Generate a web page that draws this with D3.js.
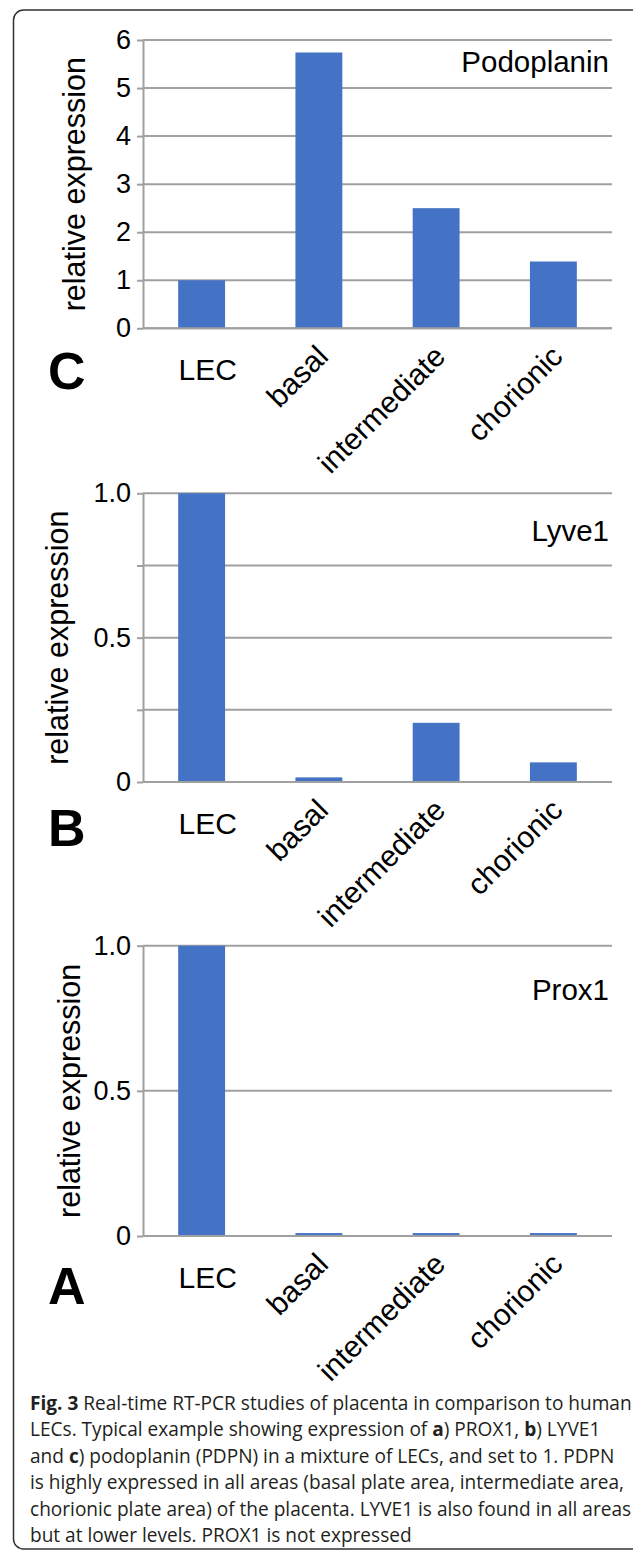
<!DOCTYPE html>
<html>
<head>
<meta charset="utf-8">
<script src="https://cdn.jsdelivr.net/npm/d3@7"></script>
<style>
  body { margin: 0; background: #fff; }
  svg { display: block; }
</style>
</head>
<body>
<svg></svg>
<script>
const categories = ['LEC', 'basal', 'intermediate', 'chorionic'];
const podoplanin = [1.0, 5.74, 2.5, 1.39];
const lyve1 = [1.0, 0.016, 0.205, 0.068];
const prox1 = [1.0, 0.01, 0.01, 0.01];

const podoplaninTicks = [0, 1, 2, 3, 4, 5, 6];
const lyve1Ticks = [0, 0.25, 0.5, 0.75, 1.0];
const prox1Ticks = [0, 0.5, 1.0];
const fractionLabels = [0, 0.5, 1.0];

const captionLines = [
  '*Fig. 3* Real-time RT-PCR studies of placenta in comparison to human',
  'LECs. Typical example showing expression of *a*) PROX1, *b*) LYVE1',
  'and *c*) podoplanin (PDPN) in a mixture of LECs, and set to 1. PDPN',
  'is highly expressed in all areas (basal plate area, intermediate area,',
  'chorionic plate area) of the placenta. LYVE1 is also found in all areas',
  'but at lower levels. PROX1 is not expressed'
];

const width = 633;
const height = 1554;
const font = '"Liberation Sans", Arial, sans-serif';
const blue = '#4472c4';
const grey = '#a0a0a0';
const left = 143, right = 612;

const svg = d3.select('svg')
    .attr('width', width)
    .attr('height', height);

svg.append('rect')
    .attr('x', 13.5)
    .attr('y', 10)
    .attr('width', 640)
    .attr('height', 1539)
    .attr('rx', 10)
    .attr('fill', 'none')
    .attr('stroke', '#333')
    .attr('stroke-width', 1.5);

const x = d3.scaleBand()
    .domain(categories)
    .range([left, right])
    .paddingInner(0.6)
    .paddingOuter(0.3);

const fractionFormat = d => fractionLabels.includes(d) ? (d === 0 ? '0' : d.toFixed(1)) : '';

const panels = [
  {letter: 'C', name: 'Podoplanin', values: podoplanin, grid: podoplaninTicks, max: 6,
   top: 40, bottom: 328.3, nameY: 72, titleX: 85, letterY: 389,
   fmt: d3.format('d')},
  {letter: 'B', name: 'Lyve1', values: lyve1, grid: lyve1Ticks, max: 1,
   top: 493.3, bottom: 782, nameY: 541, titleX: 68, letterY: 846,
   fmt: fractionFormat},
  {letter: 'A', name: 'Prox1', values: prox1, grid: prox1Ticks, max: 1,
   top: 945.7, bottom: 1236, nameY: 1000, titleX: 80, letterY: 1304,
   fmt: fractionFormat}
];

panels.forEach(drawPanel);

function drawPanel(p) {
  const y = d3.scaleLinear()
      .domain([0, p.max])
      .range([p.bottom, p.top]);

  const g = svg.append('g')
      .attr('font-family', font);

  g.append('g')
    .selectAll('line')
    .data(p.grid)
    .join('line')
      .attr('x1', left)
      .attr('x2', right)
      .attr('y1', d => y(d))
      .attr('y2', d => y(d))
      .attr('stroke', grey)
      .attr('stroke-width', 2);

  g.append('g')
    .selectAll('rect')
    .data(categories.map((c, i) => ({c, v: p.values[i]})))
    .join('rect')
      .attr('x', d => x(d.c))
      .attr('width', x.bandwidth())
      .attr('y', d => y(d.v))
      .attr('height', d => y(0) - y(d.v))
      .attr('fill', blue);

  const axis = g.append('g')
      .attr('transform', `translate(${left},0)`)
      .call(d3.axisLeft(y)
              .tickValues(p.grid)
              .tickSize(6)
              .tickSizeOuter(0)
              .tickPadding(6)
              .tickFormat(p.fmt));
  axis.select('.domain').attr('stroke', grey).attr('stroke-width', 2);
  axis.selectAll('.tick line').attr('stroke', grey).attr('stroke-width', 2);
  axis.selectAll('.tick text')
      .attr('font-family', font)
      .attr('font-size', 27)
      .attr('fill', '#000');

  g.append('line')
      .attr('x1', left)
      .attr('x2', right)
      .attr('y1', y(0))
      .attr('y2', y(0))
      .attr('stroke', grey)
      .attr('stroke-width', 2);

  g.append('g')
    .selectAll('text')
    .data(categories)
    .join('text')
      .attr('transform', (d, i) => {
        const cx = x(d) + x.bandwidth() / 2;
        return i === 0
          ? `translate(${cx + 6},${p.bottom + 52})`
          : `translate(${cx + 11},${p.bottom + 30}) rotate(-45)`;
      })
      .attr('text-anchor', (d, i) => i === 0 ? 'middle' : 'end')
      .attr('font-size', 30)
      .text(d => d);

  g.append('text')
      .attr('transform', `translate(${p.titleX},${(p.top + p.bottom) / 2}) rotate(-90)`)
      .attr('text-anchor', 'middle')
      .attr('font-size', 30.5)
      .text('relative expression');

  g.append('text')
      .attr('x', 609)
      .attr('y', p.nameY)
      .attr('text-anchor', 'end')
      .attr('font-size', 29.5)
      .text(p.name);

  g.append('text')
      .attr('x', 48)
      .attr('y', p.letterY)
      .attr('font-size', 52)
      .attr('font-weight', 'bold')
      .text(p.letter);
}

// caption under the three charts
const caption = svg.append('g')
    .attr('font-family', '"Open Sans", sans-serif')
    .attr('font-size', 18)
    .attr('fill', '#231f20');

const lines = caption.selectAll('text')
    .data(captionLines)
    .join('text')
      .attr('x', 30)
      .attr('y', (d, i) => 1410 + i * 26.4);

lines.selectAll('tspan')
    .data(d => d.split('*'))
    .join('tspan')
      .attr('font-weight', (d, i) => i % 2 ? 'bold' : 'normal')
      .text(d => d);

const firstWidth = lines.node().getComputedTextLength();
caption.attr('font-size', 18 * 602 / firstWidth);
</script>
</body>
</html>
